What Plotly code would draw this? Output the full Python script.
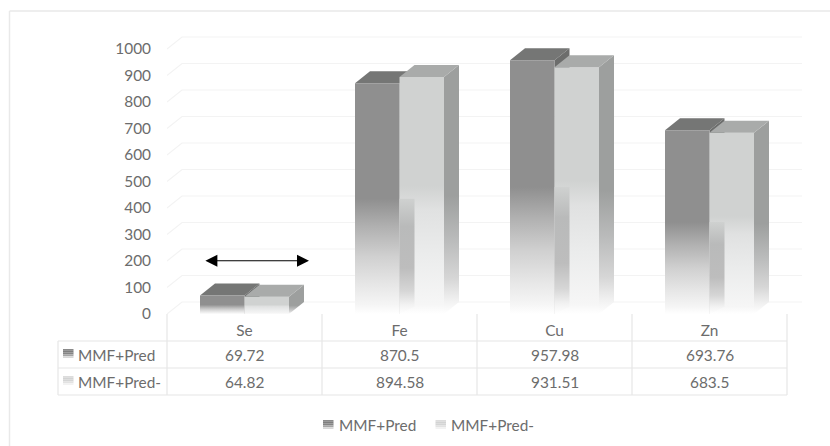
import plotly.graph_objects as go

categories = ["Se", "Fe", "Cu", "Zn"]
series_names = ["MMF+Pred", "MMF+Pred-"]
pred_pos = [69.72, 870.5, 957.98, 693.76]
pred_neg = [64.82, 894.58, 931.51, 683.5]
pred_pos_text = ["69.72", "870.5", "957.98", "693.76"]
pred_neg_text = ["64.82", "894.58", "931.51", "683.5"]
y_ticks = [0, 100, 200, 300, 400, 500, 600, 700, 800, 900, 1000]

W, H = 830, 446
L, R, T, B = 167, 802, 36, 314      # plot area in pixels
X0, X1 = -0.5, (R - L) / 155 - 0.5
Y1 = (B - T) / 0.265
BW = 44.5 / 155                     # bar width in category units
DX = 15 / 155                       # depth of the fake 3D
DY = 12 / 0.265

TXT = "#6c6c6c"
FONT = "Lato"
SIZE = 15.4
GRID = "#f3f3f3"
TABLE = "#e6e6e6"


def gradient(value, stops, extra=DY):
    top = value + extra
    return dict(
        type="vertical", start=0, stop=top,
        colorscale=[[f * value / top, c] for f, c in stops] + [[1, stops[-1][1]]],
    )


FRONT_1 = [[0, "#ffffff"], [.04, "#f5f5f5"], [.13, "#e6e6e6"], [.25, "#d0d0d0"],
           [.38, "#b0b0b0"], [.5, "#8f8f8f"], [.99, "#8f8f8f"]]
FRONT_2 = [[0, "#ffffff"], [.04, "#f6f6f6"], [.25, "#ebecec"], [.44, "#e0e1e1"],
           [.54, "#d0d2d1"], [.99, "#d0d2d1"]]
SIDE_2 = [[0, "#ffffff"], [.06, "#f0f0f0"], [.15, "#d6d6d6"], [.3, "#bcbdbd"],
          [.5, "#9d9f9e"], [.99, "#9d9f9e"]]
STRIP = [[0, "#ffffff"], [.04, "#f2f2f2"], [.1, "#d6d6d6"], [.2, "#bdbdbd"],
         [.38, "#b9baba"], [.5, "#cfd1d0"], [.99, "#cfd1d0"]]

fig = go.Figure()


def poly(xs, ys, color=None, grad=None):
    kw = dict(fillgradient=grad) if grad else dict(fillcolor=color)
    fig.add_trace(go.Scatter(
        x=xs, y=ys, mode="lines", fill="toself", line=dict(width=0),
        hoverinfo="skip", showlegend=False, cliponaxis=False, **kw))


# back wall gridlines
gx, gy = [], []
for v in y_ticks:
    gx += [X0, X0 + DX, X1, None]
    gy += [v, v + DY, v + DY, None]
fig.add_trace(go.Scatter(x=gx, y=gy, mode="lines", line=dict(color=GRID, width=1.2),
                         hoverinfo="skip", showlegend=False, cliponaxis=False))

for i in range(len(categories)):
    a, b = pred_pos[i], pred_neg[i]
    x0, x1, x2 = i - BW, i, i + BW
    # series one: top, side, front
    poly([x0, x1, x1 + DX, x0 + DX, x0], [a, a, a + DY, a + DY, a], "#757675")
    poly([x1, x1 + DX, x1 + DX, x1, x1], [0, DY, a + DY, a, 0], "#6c6d6c")
    poly([x0, x1, x1, x0, x0], [0, 0, a, a, 0], grad=gradient(a, FRONT_1))
    # series two: front, see-through strip, side, top
    poly([x1, x2, x2, x1, x1], [0, 0, b, b, 0], grad=gradient(b, FRONT_2))
    m = a * 0.5
    if m > DY:
        poly([x1, x1 + DX, x1 + DX, x1, x1], [0, DY * 0.6, m, m, 0], grad=gradient(a, STRIP))
    poly([x2, x2 + DX, x2 + DX, x2, x2], [0, DY, b + DY, b, 0], grad=gradient(b, SIDE_2))
    poly([x1, x2, x2 + DX, x1 + DX, x1], [b, b, b + DY, b + DY, b], "#a9abaa")

px = lambda x: (x - L) / (R - L)
py = lambda y: (B - y) / (B - T)
shapes, notes = [], []


def line(x0, y0, x1, y1, color=TABLE, width=1.2):
    shapes.append(dict(type="line", xref="paper", yref="paper", x0=px(x0), y0=py(y0),
                       x1=px(x1), y1=py(y1), line=dict(color=color, width=width)))


def text(x, y, s, anchor="center"):
    notes.append(dict(xref="paper", yref="paper", x=px(x), y=py(y), text=s, showarrow=False,
                      xanchor=anchor, yanchor="middle", xshift=0, borderpad=0,
                      font=dict(family=FONT, size=SIZE, color=TXT)))


def key(x, y, colors, w=10.5, h=9):
    n = len(colors)
    for j, c in enumerate(colors):
        shapes.append(dict(type="rect", xref="paper", yref="paper", layer="above",
                           x0=px(x), x1=px(x + w), y0=py(y + h * j / n), y1=py(y + h * (j + 1) / n),
                           fillcolor=c, line=dict(width=0)))


KEY_1 = ["#8a8a8a", "#7e7e7e", "#858585", "#a6a6a6", "#d8d8d8"]
KEY_2 = ["#dcdcdc", "#d2d3d3", "#d4d5d5", "#e2e2e2", "#f2f2f2"]

# chart frame: top and left only
line(9.5, 11, W, 11, "#e9e9e9", 1.5)
line(9.5, 11, 9.5, H, "#e9e9e9", 1.5)

# data table
for x in [167, 322, 477, 632, 787]:
    line(x, 314, x, 395)
line(58, 341, 58, 395)
for y in [341, 368, 395]:
    line(58, y, 787, y)
for name, y, k in zip(series_names, [354.5, 381.5], [KEY_1, KEY_2]):
    key(63, y - 5.5, k)
    text(77, y, name, "left")
for i in range(len(categories)):
    text(244.5 + 155 * i, 354.5, pred_pos_text[i])
    text(244.5 + 155 * i, 381.5, pred_neg_text[i])

# bottom legend
key(323, 420, KEY_1)
text(337.5, 424.5, series_names[0], "left")
key(435.5, 420, KEY_2)
text(449.5, 424.5, series_names[1], "left")

# double-headed arrow over Se
notes.append(dict(xref="x", yref="y", axref="x", ayref="y", x=0.416, y=201, ax=-0.262, ay=201,
                  text="", showarrow=True, arrowside="end+start", arrowhead=2, arrowsize=2,
                  arrowwidth=1.2, arrowcolor="#000000"))

fig.update_layout(
    width=W, height=H, margin=dict(l=L, r=W - R, t=T, b=H - B),
    paper_bgcolor="#ffffff", plot_bgcolor="#ffffff", showlegend=False,
    shapes=shapes, annotations=notes,
    font=dict(family=FONT, size=SIZE, color=TXT),
    xaxis=dict(range=[X0, X1], tickvals=list(range(len(categories))), ticktext=categories,
               showgrid=False, zeroline=False, showline=False, ticks="",
               ticklabelstandoff=6, tickfont=dict(family=FONT, size=SIZE, color=TXT)),
    yaxis=dict(range=[0, Y1], tickvals=y_ticks, showgrid=False, zeroline=False, showline=False,
               ticks="", ticklabelstandoff=15, tickfont=dict(family=FONT, size=SIZE, color=TXT)),
)

fig.write_html("out.html", config=dict(displayModeBar=False),
               post_script="document.body.style.margin='0';document.body.style.overflow='hidden';")
